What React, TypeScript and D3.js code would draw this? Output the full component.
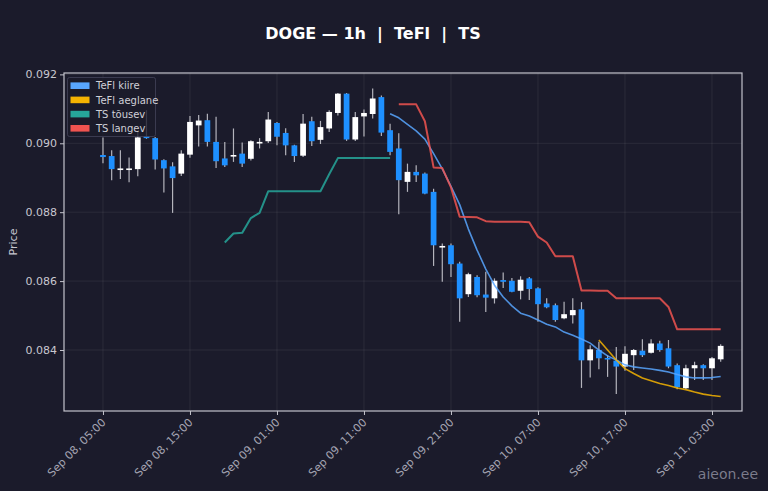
import React, { useEffect, useRef } from "react";
import * as d3 from "d3";

// hourly candles, first one at Sep 08 05:00 (UTC)
const startTime = "2025-09-08T05:00:00Z";

const opens = [
  0.08966, 0.08963, 0.08925, 0.08926, 0.08925, 0.09021, 0.09015, 0.08951, 0.08933, 0.08912,
  0.08967, 0.09052, 0.09067, 0.09004, 0.08956, 0.08963, 0.0897, 0.08955, 0.09002, 0.09006,
  0.09059, 0.0903, 0.08994, 0.08964, 0.09064, 0.0901, 0.09043, 0.09088, 0.09144, 0.09011,
  0.09078, 0.09085, 0.09134, 0.09038, 0.08985, 0.08888, 0.08917, 0.08912, 0.08859, 0.08699,
  0.08704, 0.08651, 0.08562, 0.08612, 0.08561, 0.0855, 0.08603, 0.08601, 0.08572, 0.08608,
  0.08579, 0.08535, 0.0853, 0.08492, 0.08501, 0.08518, 0.0837, 0.084, 0.08377, 0.08369,
  0.08352, 0.08385, 0.08398, 0.08392, 0.08419, 0.08405, 0.08356, 0.08289, 0.08347, 0.08356,
  0.08347, 0.08373,
];
const highs = [
  0.09017, 0.0898, 0.0898, 0.08959, 0.09035, 0.09096, 0.09018, 0.08954, 0.08945, 0.0898,
  0.09079, 0.09082, 0.09086, 0.09077, 0.09004, 0.09043, 0.09002, 0.09009, 0.09015, 0.09091,
  0.09062, 0.09044, 0.08996, 0.09085, 0.09077, 0.09065, 0.09096, 0.09146, 0.09146, 0.09091,
  0.09098, 0.09159, 0.09139, 0.09057, 0.09029, 0.08941, 0.08936, 0.08915, 0.08868, 0.08709,
  0.08709, 0.08656, 0.08624, 0.08617, 0.08627, 0.08608, 0.08625, 0.08609, 0.08614, 0.08612,
  0.08582, 0.0855, 0.08535, 0.0854, 0.0855, 0.08539, 0.08414, 0.08424, 0.08385, 0.08409,
  0.08411, 0.08403, 0.08431, 0.08431, 0.08427, 0.08429, 0.08361, 0.08357, 0.08366, 0.08359,
  0.0838, 0.08417,
];
const lows = [
  0.08942, 0.08893, 0.08896, 0.08887, 0.08904, 0.09013, 0.08924, 0.08857, 0.08798, 0.08905,
  0.08958, 0.08991, 0.08991, 0.08928, 0.08931, 0.08946, 0.08931, 0.0895, 0.08985, 0.09001,
  0.08994, 0.08965, 0.08946, 0.0896, 0.08992, 0.08998, 0.09033, 0.09081, 0.09007, 0.09007,
  0.0902, 0.09072, 0.09021, 0.08965, 0.08794, 0.08859, 0.08888, 0.08852, 0.08644, 0.08598,
  0.08612, 0.08482, 0.08554, 0.08553, 0.0851, 0.08535, 0.0858, 0.08568, 0.08547, 0.08545,
  0.08482, 0.08521, 0.08482, 0.08489, 0.08477, 0.0829, 0.0832, 0.08344, 0.08322, 0.08272,
  0.0834, 0.08342, 0.0838, 0.0839, 0.08395, 0.08347, 0.08286, 0.08286, 0.08313, 0.08313,
  0.08313, 0.08366,
];
const closes = [
  0.0896, 0.08925, 0.08927, 0.08927, 0.09017, 0.09015, 0.08953, 0.08927, 0.08899, 0.0897,
  0.09062, 0.09066, 0.09004, 0.08948, 0.08936, 0.08966, 0.08941, 0.09006, 0.09004, 0.09069,
  0.09019, 0.08994, 0.08963, 0.09057, 0.09006, 0.09047, 0.09091, 0.09144, 0.09011, 0.09076,
  0.09088, 0.0913, 0.09031, 0.08975, 0.08893, 0.08917, 0.08907, 0.08854, 0.08704, 0.08702,
  0.08649, 0.0855, 0.0862, 0.08559, 0.08552, 0.08601, 0.08598, 0.08569, 0.08604, 0.08577,
  0.08533, 0.08524, 0.08487, 0.08504, 0.08516, 0.0837, 0.08402, 0.08376, 0.08373, 0.08352,
  0.08389, 0.084, 0.08385, 0.08419, 0.084, 0.08352, 0.08292, 0.08347, 0.08356, 0.08347,
  0.08376, 0.08412,
];

// indicator lines, each starts at a candle index
const teflFastStart = 33;
const teflFast = [
  0.09086, 0.09074, 0.09055, 0.09036, 0.09012, 0.0897, 0.08926, 0.08875, 0.08822, 0.08751,
  0.0869, 0.08635, 0.08588, 0.08554, 0.08528, 0.08507, 0.08499, 0.08487, 0.08475, 0.08467,
  0.08452, 0.08443, 0.08432, 0.0842, 0.084, 0.08383, 0.08371, 0.08357, 0.08351, 0.08348,
  0.08345, 0.08341, 0.08336, 0.08329, 0.08322, 0.08319, 0.08319, 0.0832, 0.08323,
];
const teflSlowStart = 57;
const teflSlow = [
  0.08429, 0.084, 0.08371, 0.08346, 0.08332, 0.08319, 0.08311, 0.08303, 0.08297, 0.0829,
  0.08285, 0.08278, 0.08272, 0.08268, 0.08265,
];
const tsUpStart = 14;
const tsUp = [
  0.08712, 0.08738, 0.0874, 0.08783, 0.08798, 0.08861, 0.08861, 0.08861, 0.08861, 0.08861,
  0.08861, 0.08861, 0.0891, 0.08957, 0.08957, 0.08957, 0.08957, 0.08957, 0.08957, 0.08957,
];
const tsDownStart = 34;
const tsDown = [
  0.09113, 0.09113, 0.09113, 0.09064, 0.0893, 0.08928, 0.08872, 0.08787, 0.08786, 0.08785,
  0.08774, 0.08772, 0.08772, 0.08772, 0.08772, 0.08771, 0.08729, 0.08712, 0.08672, 0.08672,
  0.08672, 0.08573, 0.08573, 0.08572, 0.08572, 0.0855, 0.0855, 0.0855, 0.0855, 0.0855,
  0.0855, 0.08525, 0.0846, 0.0846, 0.0846, 0.0846, 0.0846, 0.0846,
];

const xTicks = [
  "2025-09-08T05:00:00Z", "2025-09-08T15:00:00Z", "2025-09-09T01:00:00Z", "2025-09-09T11:00:00Z",
  "2025-09-09T21:00:00Z", "2025-09-10T07:00:00Z", "2025-09-10T17:00:00Z", "2025-09-11T03:00:00Z",
];
const yTicks = [0.084, 0.086, 0.088, 0.09, 0.092];

const legendItems = [
  { name: "TeFl kiire", color: "#58a6ff" },
  { name: "TeFl aeglane", color: "#f5b301" },
  { name: "TS tõusev", color: "#26a69a" },
  { name: "TS langev", color: "#ef5350" },
];

const BG = "#1b1b2b";
const HOUR = 3600 * 1000;

export default function App() {
  const ref = useRef<SVGSVGElement>(null);

  useEffect(() => {
    document.body.style.margin = "0";
    document.body.style.background = BG;
    const svg = d3.select(ref.current);
    svg.selectAll("*").remove();

    const t0 = new Date(startTime).getTime();
    const times = opens.map((_, i) => new Date(t0 + i * HOUR));
    const left = 64, right = 742, top = 73, bottom = 411;

    const x = d3
      .scaleTime()
      .domain([new Date(t0 - 4.48 * HOUR), new Date(times[times.length - 1].getTime() + 2.45 * HOUR)])
      .range([left, right]);
    const y = d3.scaleLinear().domain([0.08223, 0.09204]).range([bottom, top]);
    const step = x(times[1]) - x(times[0]);
    const font = "DejaVu Sans, sans-serif";

    svg.append("rect").attr("width", 768).attr("height", 491).attr("fill", BG);

    // grid
    const grid = svg.append("g").attr("stroke", "#ffffff").attr("stroke-opacity", 0.07);
    grid.selectAll(".gx").data(xTicks).enter().append("line")
      .attr("x1", (d) => x(new Date(d))).attr("x2", (d) => x(new Date(d)))
      .attr("y1", top).attr("y2", bottom);
    grid.selectAll(".gy").data(yTicks).enter().append("line")
      .attr("x1", left).attr("x2", right)
      .attr("y1", (d) => y(d)).attr("y2", (d) => y(d));

    // candles
    const candles = svg.append("g");
    const bw = step * 0.66;
    opens.forEach((o, i) => {
      const c = closes[i];
      const cx = x(times[i]);
      candles.append("line")
        .attr("x1", cx).attr("x2", cx)
        .attr("y1", y(highs[i])).attr("y2", y(lows[i]))
        .attr("stroke", "#b4b4bc").attr("stroke-width", 1.2);
      const yt = y(Math.max(o, c));
      const h = Math.max(1.6, y(Math.min(o, c)) - yt);
      candles.append("rect")
        .attr("x", cx - bw / 2).attr("y", yt)
        .attr("width", bw).attr("height", h)
        .attr("fill", c >= o ? "#ffffff" : "#1e90ff");
    });

    // indicator lines
    const line = d3.line<[number, number]>().x((d) => d[0]).y((d) => d[1]);
    const drawLine = (vals: number[], start: number, color: string, w: number) => {
      const pts: [number, number][] = vals.map((v, k) => [x(times[start + k]), y(v)]);
      svg.append("path").attr("d", line(pts)).attr("fill", "none")
        .attr("stroke", color).attr("stroke-width", w).attr("stroke-opacity", 0.85)
        .attr("stroke-linejoin", "round");
    };
    drawLine(teflFast, teflFastStart, legendItems[0].color, 1.6);
    drawLine(teflSlow, teflSlowStart, legendItems[1].color, 1.6);
    drawLine(tsUp, tsUpStart, legendItems[2].color, 2);
    drawLine(tsDown, tsDownStart, legendItems[3].color, 2);

    // frame
    svg.append("rect").attr("x", left).attr("y", top)
      .attr("width", right - left).attr("height", bottom - top)
      .attr("fill", "none").attr("stroke", "#c4c4cc").attr("stroke-width", 1.2);

    // axes
    const yAxis = svg.append("g").attr("transform", `translate(${left},0)`)
      .call(d3.axisLeft(y).tickValues(yTicks).tickFormat(d3.format(".3f")).tickSize(4).tickPadding(3));
    yAxis.select(".domain").remove();
    yAxis.selectAll("line").attr("stroke", "#c4c4cc");
    yAxis.selectAll("text").attr("fill", "#c8c8d0").style("font-size", "11px").style("font-family", font);

    const fmt = d3.utcFormat("%b %d, %H:%M");
    const xAxis = svg.append("g").attr("transform", `translate(0,${bottom})`)
      .call(d3.axisBottom(x).tickValues(xTicks.map((d) => new Date(d))).tickFormat((d: any) => fmt(d)).tickSize(4));
    xAxis.select(".domain").remove();
    xAxis.selectAll("line").attr("stroke", "#c4c4cc");
    xAxis.selectAll("text")
      .attr("fill", "#a4a4b2").style("font-size", "11px").style("font-family", font)
      .attr("x", 0).attr("y", 0).attr("dy", "0")
      .attr("text-anchor", "end")
      .attr("transform", "translate(3,12) rotate(-45)");

    svg.append("text").attr("transform", "translate(17,242) rotate(-90)")
      .attr("text-anchor", "middle").attr("fill", "#c8c8d0")
      .style("font-size", "11px").style("font-family", font).text("Price");

    // title
    svg.append("text").attr("x", 373).attr("y", 39).attr("text-anchor", "middle")
      .attr("fill", "#ffffff").style("font-size", "16px").style("font-weight", "bold")
      .style("font-family", font).style("white-space", "pre")
      .text("DOGE — 1h  |  TeFl  |  TS");

    // legend
    const lg = svg.append("g");
    lg.append("rect").attr("x", 67.5).attr("y", 77.5).attr("width", 88).attr("height", 59)
      .attr("rx", 2).attr("fill", BG).attr("fill-opacity", 0.8)
      .attr("stroke", "#44445a").attr("stroke-width", 0.8);
    legendItems.forEach((it, i) => {
      const cy = 85.7 + i * 14.2;
      lg.append("rect").attr("x", 70.5).attr("y", cy - 3.3).attr("width", 19).attr("height", 6.6)
        .attr("fill", it.color);
      lg.append("text").attr("x", 96).attr("y", cy + 3.6).attr("fill", "#d0d0d8")
        .style("font-size", "10px").style("font-family", font).text(it.name);
    });

    // watermark
    svg.append("text").attr("x", 758).attr("y", 479).attr("text-anchor", "end")
      .attr("fill", "#8e8e9e").attr("fill-opacity", 0.85)
      .style("font-size", "14px").style("font-family", font).text("aieon.ee");
  }, []);

  return <svg ref={ref} width={768} height={491} style={{ display: "block" }} />;
}
